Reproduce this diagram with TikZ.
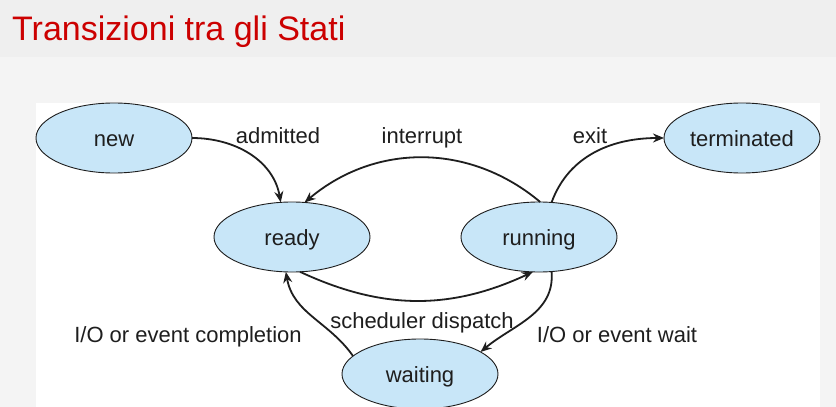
\documentclass[tikz,border=0pt]{standalone}
\usepackage{fontspec}
\setmainfont{Liberation Sans}
\usetikzlibrary{shapes.geometric,arrows.meta,positioning}
\definecolor{statefill}{RGB}{200,230,248}
\definecolor{titlered}{RGB}{204,0,0}
\definecolor{slidegray}{RGB}{244,244,244}
\definecolor{bandgray}{RGB}{239,239,239}
\definecolor{ink}{RGB}{30,30,30}

\begin{document}
\begin{tikzpicture}[
    x=1pt, y=-1pt,
    state/.style={ellipse, draw=ink, line width=0.9pt, fill=statefill, minimum width=156pt, minimum height=70pt, inner sep=0pt, outer sep=0pt, text height=20pt, text depth=4pt, text=ink, font=\fontsize{22}{26}\selectfont},
    lbl/.style={anchor=base, inner sep=0pt, text=ink, font=\fontsize{22}{26}\selectfont},
    arrow/.style={draw=ink, line width=1.8pt, -{Stealth[length=11pt,width=9pt]}}
]

% Slide background and title
\fill[slidegray] (0,0) rectangle (836,407);
\fill[bandgray] (0,0) rectangle (836,57);
\useasboundingbox (0,0) rectangle (836,407);
\node[anchor=base west, inner sep=0pt, text=titlered, font=\fontsize{34}{40}\selectfont] (title) at (12,40) {Transizioni tra gli Stati};

% Diagram panel
\fill[white] (36,103) rectangle (820,407);

% States
\node[state] (new) at (114,138) {new};
\node[state, right=472pt of new] (terminated) {terminated};
\node[state] (ready) at (292,237) {ready};
\node[state, right=91pt of ready] (running) {running};
\node[state] (waiting) at (420,374) {waiting};

% Transition labels
\node[lbl] (admitted) at (278,143) {admitted};
\node[lbl] (interrupt) at (422,143) {interrupt};
\node[lbl] (exit) at (590,143) {exit};
\node[lbl] (dispatch) at (422,328) {scheduler dispatch};
\node[lbl] (completion) at (188,342) {I/O or event completion};
\node[lbl] (wait) at (617,342) {I/O or event wait};

% Transitions
\draw[arrow] (new.east) to[out=0, in=100] (ready.108);
\draw[arrow] (running.88) to[out=140, in=40] (ready.70);
\draw[arrow] (running.70) to[out=70, in=180] (terminated.west);
\draw[arrow] (ready.-77) to[out=-25, in=-155] (running.-100);
\draw[arrow] (running.-70) to[out=-85, in=40] (waiting.20);
\draw[arrow] (waiting.165) to[out=125, in=-80] (ready.-100);

\end{tikzpicture}
\end{document}
